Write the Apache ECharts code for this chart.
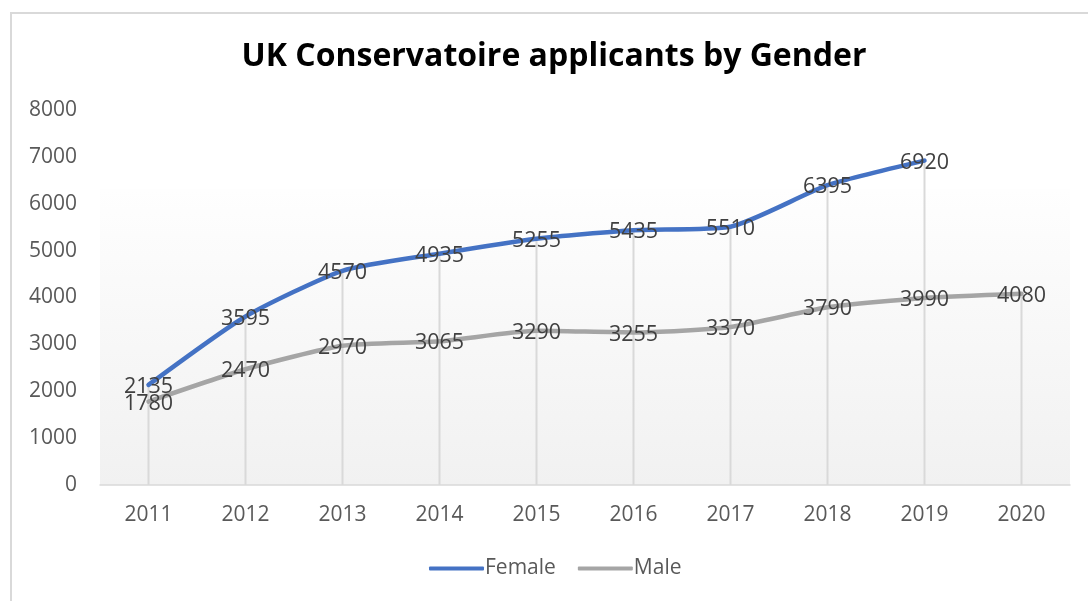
<!DOCTYPE html>
<html>
<head>
<meta charset="utf-8">
<script src="https://cdn.jsdelivr.net/npm/echarts@6/dist/echarts.min.js"></script>
<style>
  html, body { margin: 0; padding: 0; background: #ffffff; }
  #chart { position: absolute; left: 0; top: 0; width: 1088px; height: 601px; }
  #frame { position: absolute; left: 10px; top: 12px; width: 1100px; height: 620px;
           border: 2px solid #d9d9d9; box-sizing: border-box; pointer-events: none; }
</style>
</head>
<body>
<div id="chart"></div>
<div id="frame"></div>
<script>
// Applicants to UK conservatoires, by gender
const years = ['2011', '2012', '2013', '2014', '2015', '2016', '2017', '2018', '2019', '2020'];
const female = [2135, 3595, 4570, 4935, 5255, 5435, 5510, 6395, 6920, null];
const male = [1780, 2470, 2970, 3065, 3290, 3255, 3370, 3790, 3990, 4080];
const yTicks = [0, 1000, 2000, 3000, 4000, 5000, 6000, 7000, 8000];

// Drop lines reach from the axis up to the higher of the two values in each year
const dropTops = years.map((_, i) => Math.max(female[i] ?? -Infinity, male[i] ?? -Infinity));

const FONT = '"Open Sans", "Liberation Sans", sans-serif';
const chart = echarts.init(document.getElementById('chart'), null, { renderer: 'canvas' });

const labelStyle = {
  show: true,
  position: 'inside',
  offset: [0, 2],
  color: '#404040',
  fontFamily: FONT,
  fontSize: 21.5
};

chart.setOption({
  animation: false,
  backgroundColor: '#ffffff',
  title: {
    text: 'UK Conservatoire applicants by Gender',
    left: 549,
    top: 36,
    textAlign: 'center',
    textStyle: { fontFamily: FONT, fontWeight: 'bold', fontSize: 32, color: '#000000' }
  },
  graphic: [{
    type: 'rect',
    z: -10,
    silent: true,
    shape: { x: 100, y: 189, width: 970, height: 296 },
    style: {
      fill: new echarts.graphic.LinearGradient(0, 0, 0, 1, [
        { offset: 0, color: '#fefefe' },
        { offset: 1, color: '#f1f1f1' }
      ])
    }
  }],
  legend: {
    data: ['Female', 'Male'],
    bottom: 17,
    left: 424,
    icon: 'roundRect',
    itemWidth: 55,
    itemHeight: 4,
    itemGap: 22,
    textStyle: { fontFamily: FONT, fontSize: 21, color: '#595959', padding: [0, 0, 0, -4] }
  },
  grid: { left: 100, right: 18, top: 110, bottom: 116, containLabel: false },
  xAxis: {
    type: 'category',
    data: years,
    boundaryGap: true,
    axisTick: { show: false },
    axisLine: { lineStyle: { color: '#d9d9d9', width: 1.5 } },
    axisLabel: { fontFamily: FONT, fontSize: 21, color: '#595959', margin: 20 },
    splitLine: { show: false }
  },
  yAxis: {
    type: 'value',
    min: yTicks[0],
    max: yTicks[yTicks.length - 1],
    interval: yTicks[1] - yTicks[0],
    axisLine: { show: false },
    axisTick: { show: false },
    splitLine: { show: false },
    axisLabel: { fontFamily: FONT, fontSize: 21, color: '#595959', margin: 23, formatter: (v) => String(v) }
  },
  series: [
    {
      name: 'drop',
      type: 'bar',
      data: dropTops,
      barWidth: 2,
      itemStyle: { color: '#d9d9d9' },
      silent: true,
      z: 1
    },
    {
      name: 'Female',
      type: 'line',
      data: female,
      smooth: 0.2,
      showSymbol: true,
      symbol: 'circle',
      symbolSize: 0.1,
      lineStyle: { color: '#4472c4', width: 4.5, cap: 'round' },
      itemStyle: { color: '#4472c4' },
      label: labelStyle,
      z: 3
    },
    {
      name: 'Male',
      type: 'line',
      data: male,
      smooth: 0.2,
      showSymbol: true,
      symbol: 'circle',
      symbolSize: 0.1,
      lineStyle: { color: '#a5a5a5', width: 4.5, cap: 'round' },
      itemStyle: { color: '#a5a5a5' },
      label: labelStyle,
      z: 2
    }
  ]
});
</script>
</body>
</html>
